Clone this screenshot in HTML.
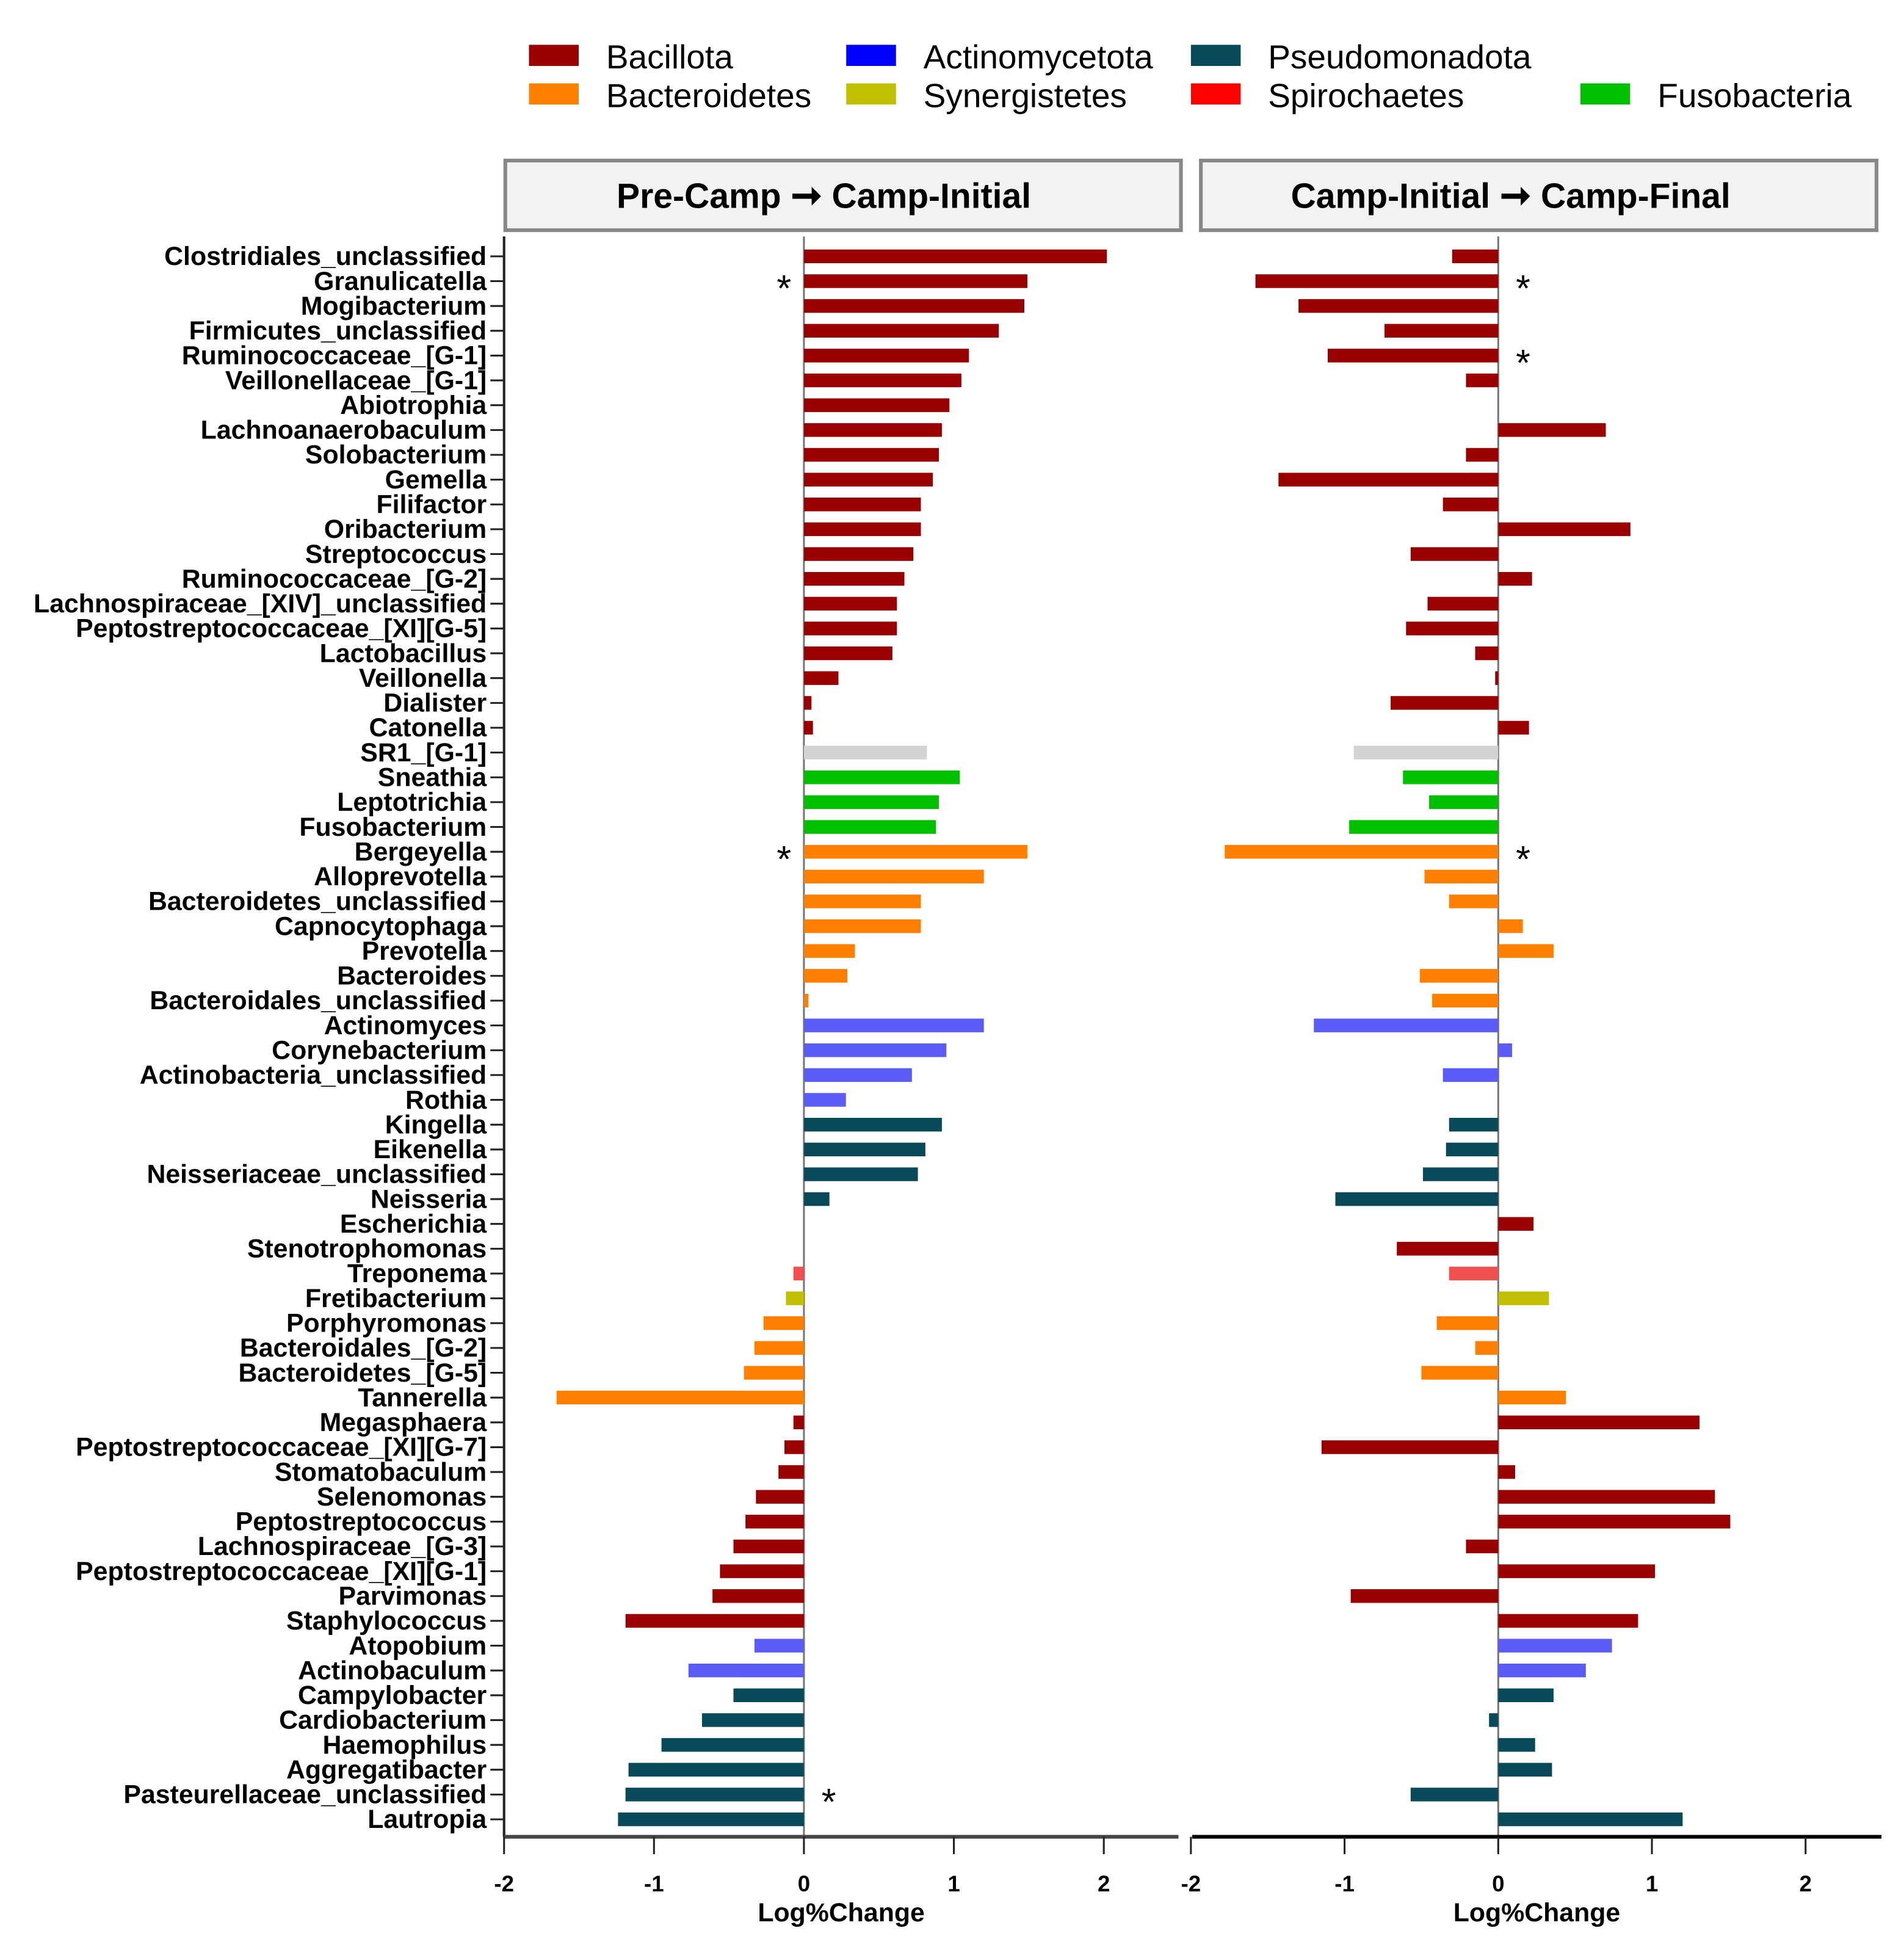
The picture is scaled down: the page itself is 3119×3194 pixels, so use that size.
<!DOCTYPE html>
<html><head><meta charset="utf-8"><style>
html,body{margin:0;padding:0;background:#fff}
svg{display:block;font-family:"Liberation Sans",Arial,sans-serif}
</style></head><body>
<svg id="chart" width="3119" height="3194" viewBox="0 0 1530 1567" xmlns="http://www.w3.org/2000/svg">
<g font-size="27" fill="#000">
<g><rect x="425" y="36" width="40" height="17" fill="#9b0000"/><text x="487" y="55">Bacillota</text></g>
<g><rect x="680" y="36" width="40" height="17" fill="#0000ff"/><text x="742" y="55">Actinomycetota</text></g>
<g><rect x="957" y="36" width="40" height="17" fill="#08495a"/><text x="1019" y="55">Pseudomonadota</text></g>
<g><rect x="425" y="67" width="40" height="17" fill="#ff8000"/><text x="487" y="86">Bacteroidetes</text></g>
<g><rect x="680" y="67" width="40" height="17" fill="#c0c000"/><text x="742" y="86">Synergistetes</text></g>
<g><rect x="957" y="67" width="40" height="17" fill="#ff0000"/><text x="1019" y="86">Spirochaetes</text></g>
<g><rect x="1270" y="67" width="40" height="17" fill="#00c000"/><text x="1332" y="86">Fusobacteria</text></g>
</g>
<g><rect x="406" y="129" width="543" height="56" fill="#f2f2f2" stroke="#888" stroke-width="3"/><text x="662" y="167" text-anchor="middle" font-size="28" font-weight="bold">Pre-Camp <tspan font-size="30">➞</tspan> Camp-Initial</text></g>
<g><rect x="965" y="129" width="543" height="56" fill="#f2f2f2" stroke="#888" stroke-width="3"/><text x="1214" y="167" text-anchor="middle" font-size="28" font-weight="bold">Camp-Initial <tspan font-size="30">➞</tspan> Camp-Final</text></g>
<g id="plot"></g>
</svg>
<script>
const categories=["Clostridiales_unclassified","Granulicatella","Mogibacterium","Firmicutes_unclassified","Ruminococcaceae_[G-1]","Veillonellaceae_[G-1]","Abiotrophia","Lachnoanaerobaculum","Solobacterium","Gemella","Filifactor","Oribacterium","Streptococcus","Ruminococcaceae_[G-2]","Lachnospiraceae_[XIV]_unclassified","Peptostreptococcaceae_[XI][G-5]","Lactobacillus","Veillonella","Dialister","Catonella","SR1_[G-1]","Sneathia","Leptotrichia","Fusobacterium","Bergeyella","Alloprevotella","Bacteroidetes_unclassified","Capnocytophaga","Prevotella","Bacteroides","Bacteroidales_unclassified","Actinomyces","Corynebacterium","Actinobacteria_unclassified","Rothia","Kingella","Eikenella","Neisseriaceae_unclassified","Neisseria","Escherichia","Stenotrophomonas","Treponema","Fretibacterium","Porphyromonas","Bacteroidales_[G-2]","Bacteroidetes_[G-5]","Tannerella","Megasphaera","Peptostreptococcaceae_[XI][G-7]","Stomatobaculum","Selenomonas","Peptostreptococcus","Lachnospiraceae_[G-3]","Peptostreptococcaceae_[XI][G-1]","Parvimonas","Staphylococcus","Atopobium","Actinobaculum","Campylobacter","Cardiobacterium","Haemophilus","Aggregatibacter","Pasteurellaceae_unclassified","Lautropia"];
const groups=["B","B","B","B","B","B","B","B","B","B","B","B","B","B","B","B","B","B","B","B","S","F","F","F","O","O","O","O","O","O","O","A","A","A","A","P","P","P","P","B","B","R","Y","O","O","O","O","B","B","B","B","B","B","B","B","B","A","A","P","P","P","P","P","P"];
const leftValues=[2.02,1.49,1.47,1.30,1.10,1.05,0.97,0.92,0.90,0.86,0.78,0.78,0.73,0.67,0.62,0.62,0.59,0.23,0.05,0.06,0.82,1.04,0.90,0.88,1.49,1.20,0.78,0.78,0.34,0.29,0.03,1.20,0.95,0.72,0.28,0.92,0.81,0.76,0.17,0,0,-0.07,-0.12,-0.27,-0.33,-0.40,-1.65,-0.07,-0.13,-0.17,-0.32,-0.39,-0.47,-0.56,-0.61,-1.19,-0.33,-0.77,-0.47,-0.68,-0.95,-1.17,-1.19,-1.24];
const rightValues=[-0.30,-1.58,-1.30,-0.74,-1.11,-0.21,0,0.70,-0.21,-1.43,-0.36,0.86,-0.57,0.22,-0.46,-0.60,-0.15,-0.02,-0.70,0.20,-0.94,-0.62,-0.45,-0.97,-1.78,-0.48,-0.32,0.16,0.36,-0.51,-0.43,-1.20,0.09,-0.36,0,-0.32,-0.34,-0.49,-1.06,0.23,-0.66,-0.32,0.33,-0.40,-0.15,-0.50,0.44,1.31,-1.15,0.11,1.41,1.51,-0.21,1.02,-0.96,0.91,0.74,0.57,0.36,-0.06,0.24,0.35,-0.57,1.20];
const leftStars=[1,24,62];
const rightStars=[1,4,24];
const ticks=[-2,-1,0,1,2];
const colors={B:"#9b0000",O:"#ff8000",A:"#5b5bf5",P:"#08495a",F:"#00c000",Y:"#c0c000",R:"#f05050",S:"#d3d3d3"};
const NS="http://www.w3.org/2000/svg";
const plot=document.getElementById('plot');
function mk(t,a,p){const e=document.createElementNS(NS,t);for(const k in a)e.setAttribute(k,a[k]);(p||plot).appendChild(e);return e;}
const yFirst=206,yStep=(1462-206)/63;
function yPos(i){return yFirst+i*yStep;}
const panels=[{x0:646,unit:120.5,left:405,right:947,vals:leftValues,stars:leftStars,name:'left',axisColor:'#444',titleX:676},
{x0:1204,unit:123.5,left:958,right:1512,vals:rightValues,stars:rightStars,name:'right',axisColor:'#000',titleX:1235}];
const yAxis=mk('line',{x1:405,y1:190,x2:405,y2:1476,stroke:'#222','stroke-width':2});


categories.forEach((c,i)=>{
 const t=mk('text',{x:391,y:yPos(i)+7,'text-anchor':'end','font-size':21,'font-weight':'bold'});
 
 
 t.textContent=c;
 const tk=mk('line',{x1:394,y1:yPos(i),x2:405,y2:yPos(i),stroke:'#222','stroke-width':1.5});
 
 
});
panels.forEach(p=>{
 const sx=v=>p.x0+v*p.unit;
 const z=mk('line',{x1:p.x0,y1:190,x2:p.x0,y2:1476,stroke:'#777','stroke-width':1.5});
 
 
 p.vals.forEach((v,i)=>{
  if(v===0)return;
  const a=sx(Math.min(0,v)),b=sx(Math.max(0,v));
  const r=mk('rect',{x:a,y:yPos(i)-5.5,width:b-a,height:11,fill:colors[groups[i]]});
  
  
 });
 p.stars.forEach(i=>{
  const sxp=p.vals[i]>0?p.x0-16:p.x0+20;
  const s=mk('text',{x:sxp,y:yPos(i)+16,'text-anchor':'middle','font-size':30});
  
  
  s.textContent='*';
 });
 const ax=mk('line',{x1:p.left,y1:1476,x2:p.right,y2:1476,stroke:p.axisColor,'stroke-width':3});
 
 
 ticks.forEach(t=>{
  const tl=mk('line',{x1:sx(t),y1:1476,x2:sx(t),y2:1490,stroke:'#222','stroke-width':1.5});
  
  
  const tx=mk('text',{x:sx(t),y:1520,'text-anchor':'middle','font-size':18,'font-weight':'bold'});
  
  
  tx.textContent=String(t);
 });
 const ti=mk('text',{x:p.titleX,y:1544,'text-anchor':'middle','font-size':21,'font-weight':'bold'});
 
 
 ti.textContent='Log%Change';
});
</script>
</body></html>
